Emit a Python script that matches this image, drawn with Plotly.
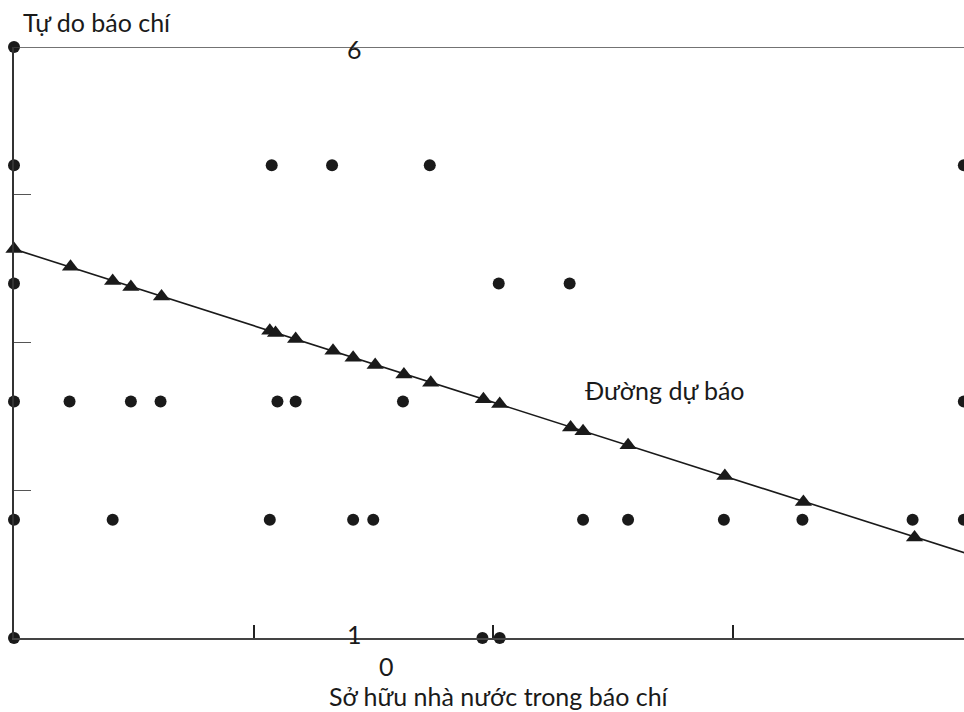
import plotly.graph_objects as go

# Observed data points (state ownership share vs. press freedom score)
obs_x = [0.0, 0.0, 0.269, 0.332, 0.434, 0.9915,
         0.0, 0.506, 0.580,
         0.0, 0.058, 0.122, 0.153, 0.275, 0.294, 0.406, 0.9915,
         0.0, 0.103, 0.267, 0.354, 0.375, 0.594, 0.641, 0.741, 0.823, 0.938, 0.9915,
         0.0, 0.489, 0.507]
obs_y = [6, 5, 5, 5, 5, 5,
         4, 4, 4,
         3, 3, 3, 3, 3, 3, 3, 3,
         2, 2, 2, 2, 2, 2, 2, 2, 2, 2, 2,
         1, 1, 1]

# Predicted values (triangles)
pred_x = [0.0, 0.059, 0.103, 0.122, 0.154, 0.267, 0.273, 0.294, 0.333, 0.354,
          0.377, 0.407, 0.435, 0.490, 0.507, 0.581, 0.594, 0.641, 0.742, 0.824, 0.940]
pred_y = [4.29, 4.14, 4.02, 3.97, 3.89, 3.60, 3.58, 3.53, 3.43, 3.37,
          3.31, 3.23, 3.16, 3.02, 2.98, 2.78, 2.75, 2.63, 2.37, 2.15, 1.85]

# Regression line endpoints
line_x = [0.0, 1.0]
line_y = [4.29, 1.70]

y_ticks = [1, 2.25, 3.5, 4.75, 6]
x_ticks = [0.25, 0.5, 0.75]

FONT = "Lato"
INK = "#1a1a1a"
FS = 25

fig = go.Figure()
fig.add_trace(go.Scatter(x=line_x, y=line_y, mode="lines",
                         line=dict(color=INK, width=1.6), hoverinfo="skip",
                         cliponaxis=True))
fig.add_trace(go.Scatter(x=pred_x, y=pred_y, mode="markers",
                         marker=dict(symbol="triangle-up", size=15, color=INK),
                         cliponaxis=False))
fig.add_trace(go.Scatter(x=obs_x, y=obs_y, mode="markers",
                         marker=dict(symbol="circle", size=12, color=INK),
                         cliponaxis=False))

fig.update_layout(
    width=964, height=712,
    margin=dict(l=14, r=0, t=47, b=74),
    plot_bgcolor="white", paper_bgcolor="white",
    showlegend=False,
    font=dict(family=FONT, size=FS, color=INK),
    xaxis=dict(range=[0, 950 / 958], showgrid=False, zeroline=False,
               showline=True, linecolor="#444", linewidth=1.5,
               tickmode="array", tickvals=x_ticks, showticklabels=False,
               ticks="inside", ticklen=13, tickwidth=1.5, tickcolor="#222"),
    yaxis=dict(range=[1, 6], showgrid=False, zeroline=False,
               showline=True, linecolor="#333", linewidth=1.5,
               tickmode="array", tickvals=y_ticks, showticklabels=False,
               ticks="inside", ticklen=17, tickwidth=1.2, tickcolor="#555"),
    shapes=[dict(type="line", xref="paper", yref="y", x0=0, x1=1, y0=6, y1=6,
                 line=dict(color="#444", width=1.5))],
    annotations=[
        dict(text="Tự do báo chí", xref="paper", yref="paper", x=0.007, y=1.0,
             yshift=25, xanchor="left", yanchor="middle", showarrow=False,
             font=dict(size=FS)),
        dict(text="6", xref="x", yref="y", x=0.355, y=6, yshift=-2,
             xanchor="center", yanchor="middle", showarrow=False,
             font=dict(size=FS)),
        dict(text="1", xref="x", yref="y", x=0.355, y=1, yshift=4,
             xanchor="center", yanchor="middle", showarrow=False,
             font=dict(size=FS)),
        dict(text="0", xref="x", yref="y", x=0.389, y=1, yshift=-28,
             xanchor="center", yanchor="middle", showarrow=False,
             font=dict(size=FS)),
        dict(text="Sở hữu nhà nước trong báo chí", xref="x", yref="paper",
             x=0.506, y=0, yshift=-58, xanchor="center", yanchor="middle",
             showarrow=False, font=dict(size=FS)),
        dict(text="Đường dự báo", xref="x", yref="y", x=0.594, y=3.1,
             xanchor="left", yanchor="middle", showarrow=False,
             font=dict(size=FS)),
    ],
)

fig.write_html(
    "out.html",
    config={"displayModeBar": False},
    post_script="document.body.style.margin='0';"
                "document.documentElement.style.overflow='hidden';"
                "document.body.style.overflow='hidden';",
)
